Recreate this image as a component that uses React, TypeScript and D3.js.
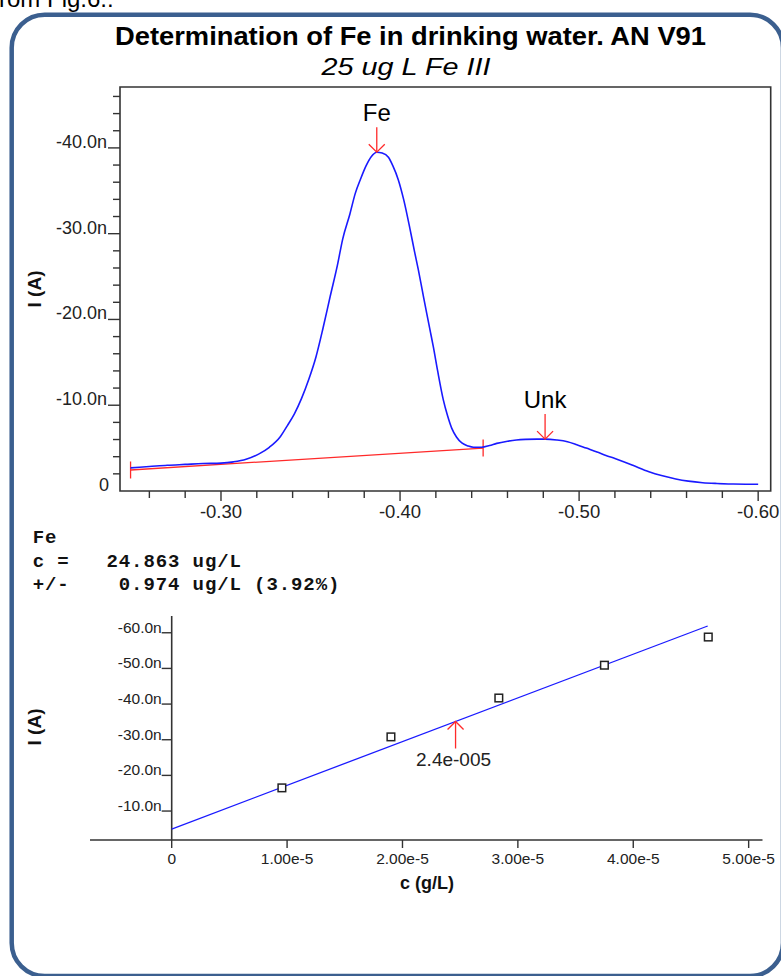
import React from 'react';
import * as d3 from 'd3';

// voltammogram (top chart)
const potential = [-0.2495, -0.26, -0.27, -0.28, -0.29, -0.3, -0.307, -0.314, -0.321, -0.327, -0.333, -0.337, -0.341, -0.345, -0.349, -0.353, -0.357, -0.361, -0.365, -0.368, -0.372, -0.375, -0.378, -0.381, -0.384, -0.387, -0.39, -0.3935, -0.396, -0.399, -0.402, -0.4056, -0.408, -0.4102, -0.4125, -0.4149, -0.417, -0.4186, -0.421, -0.4242, -0.4265, -0.4289, -0.4315, -0.4345, -0.438, -0.441, -0.4456, -0.45, -0.454, -0.46, -0.465, -0.47, -0.4764, -0.481, -0.4875, -0.4935, -0.4987, -0.504, -0.51, -0.515, -0.52, -0.5245, -0.53, -0.539, -0.546, -0.554, -0.561, -0.569, -0.577, -0.586, -0.593, -0.6];
const current = [-2.7, -2.85, -3.0, -3.1, -3.2, -3.25, -3.4, -3.7, -4.3, -5.1, -6.3, -7.6, -9.0, -10.8, -13.0, -15.6, -19.0, -22.7, -26.3, -29.4, -32.3, -34.7, -36.4, -37.9, -39.0, -39.5, -39.4, -38.9, -37.9, -36.3, -34.0, -30.5, -28.0, -25.8, -23.3, -20.7, -18.5, -16.8, -14.0, -10.6, -8.8, -7.3, -6.3, -5.6, -5.25, -5.1, -5.1, -5.3, -5.55, -5.8, -5.95, -6.02, -6.05, -6.05, -5.95, -5.75, -5.4, -5.0, -4.55, -4.15, -3.8, -3.45, -3.0, -2.25, -1.8, -1.4, -1.15, -0.97, -0.88, -0.82, -0.79, -0.78];

const baselinePotential = [-0.2495, -0.4464];
const baselineCurrent = [-2.45, -5.0];

const peakNames = ['Fe', 'Unk'];
const peakPotentials = [-0.387, -0.481];
const peakCurrents = [-39.5, -6.05];

const topMajorY = [-10, -20, -30, -40];
const topMajorX = [-0.3, -0.4, -0.5, -0.6];

// calibration (bottom chart)
const standardConc = [0.955e-5, 1.9e-5, 2.835e-5, 3.75e-5, 4.65e-5];
const standardCurrent = [-16.5, -30.8, -41.7, -50.9, -58.8];
const fitConc = [0, 4.645e-5];
const fitCurrent = [-4.96, -61.9];
const sampleConc = 2.46e-5;
const sampleLabel = '2.4e-005';

const botTicksY = [-10, -20, -30, -40, -50, -60];
const botTicksX = [0, 1e-5, 2e-5, 3e-5, 4e-5, 5e-5];

const resultLines = ['Fe', 'c =   24.863 ug/L', '+/-    0.974 ug/L (3.92%)'];

const SANS = 'Liberation Sans, Arial, sans-serif';
const MONO = 'Liberation Mono, Courier New, monospace';
const AXIS = '#333';
const BLUE = '#1a1aff';
const RED = '#ff2a2a';

const App = () => {
    const W = 781;
    const H = 976;

    // top chart scales
    const xTop = d3.scaleLinear().domain([-0.2436, -0.607]).range([120, 770.7]);
    const yTop = d3.scaleLinear().domain([0, -47.1]).range([491, 87]);

    const curve = d3.line<number>()
        .x((d, i) => xTop(potential[i]))
        .y((d, i) => yTop(current[i]))
        .curve(d3.curveMonotoneX);

    const minorY = d3.range(-2, -47, -2);
    const minorX = d3.range(-0.26, -0.601, -0.02);

    // bottom chart scales
    const xBot = d3.scaleLinear().domain([-0.708e-5, 5.12e-5]).range([90, 762.5]);
    const yBot = d3.scaleLinear().domain([-1.88, -64.7]).range([840, 616]);
    const fitAt = d3.scaleLinear().domain(fitConc).range(fitCurrent);

    const sx = xBot(sampleConc);
    const sy = yBot(fitAt(sampleConc));

    return (
        <svg width={W} height={H} style={{ position: 'absolute', left: 0, top: 0, background: '#fff' }}>
            {/* paragraph text above the frame, clipped by the page top */}
            <text x={-1} y={7} fontFamily={SANS} fontSize={24} fill="#000">rom Fig.6.:</text>

            {/* rounded frame */}
            <rect x={11.7} y={14.7} width={771.3} height={961.3} rx={33} ry={33}
                fill="#fff" stroke="#3b5f8f" strokeWidth={4.5} />

            {/* titles */}
            <text x={410.5} y={44.5} textAnchor="middle" fontFamily={SANS} fontWeight="bold" fontSize={26}
                textLength={591} lengthAdjust="spacingAndGlyphs">Determination of Fe in drinking water. AN V91</text>
            <text x={406} y={75} textAnchor="middle" fontFamily={SANS} fontStyle="italic" fontSize={24}
                textLength={169} lengthAdjust="spacingAndGlyphs">25 ug L Fe III</text>

            {/* top chart frame */}
            <path d={`M120,${yTop.range()[1]}H770.7V491H120Z`} fill="none" stroke={AXIS} strokeWidth={1.6} />
            {minorY.map(v => {
                const major = topMajorY.includes(v);
                return <line key={'my' + v} x1={major ? 108 : 113} x2={120} y1={yTop(v)} y2={yTop(v)} stroke={AXIS} strokeWidth={1.4} />;
            })}
            {topMajorY.map(v => (
                <text key={'ly' + v} x={107} y={yTop(v)} textAnchor="end" fontFamily={SANS} fontSize={18} fill="#222">
                    {v.toFixed(1) + 'n'}
                </text>
            ))}
            <text x={109} y={yTop(0)} textAnchor="end" fontFamily={SANS} fontSize={18} fill="#222">0</text>
            {minorX.map(v => {
                const major = topMajorX.some(m => Math.abs(m - v) < 1e-6);
                return <line key={'mx' + v} x1={xTop(v)} x2={xTop(v)} y1={491} y2={major ? 501 : 498} stroke={AXIS} strokeWidth={1.4} />;
            })}
            {topMajorX.map(v => (
                <text key={'lx' + v} x={xTop(v)} y={518} textAnchor="middle" fontFamily={SANS} fontSize={18.5} fill="#222">
                    {v.toFixed(2)}
                </text>
            ))}
            <text transform="translate(41,289) rotate(-90)" textAnchor="middle" fontFamily={SANS} fontWeight="bold" fontSize={19} fill="#111">I (A)</text>

            {/* baseline */}
            <line x1={xTop(baselinePotential[0])} x2={xTop(baselinePotential[1])}
                y1={yTop(baselineCurrent[0])} y2={yTop(baselineCurrent[1])} stroke={RED} strokeWidth={1.3} />
            {baselinePotential.map((v, i) => (
                <line key={'bt' + i} x1={xTop(v)} x2={xTop(v)} y1={yTop(baselineCurrent[i]) - 8.5} y2={yTop(baselineCurrent[i]) + 8.5} stroke={RED} strokeWidth={1.3} />
            ))}

            {/* voltammogram */}
            <path d={curve(current) || ''} fill="none" stroke={BLUE} strokeWidth={1.6} />

            {/* peak markers */}
            {peakNames.map((name, i) => {
                const px = xTop(peakPotentials[i]);
                const py = yTop(peakCurrents[i]);
                return (
                    <g key={name}>
                        <line x1={px} x2={px} y1={py - 25} y2={py} stroke={RED} strokeWidth={1.3} />
                        <path d={`M${px - 8},${py - 8}L${px},${py}L${px + 8},${py - 8}`} fill="none" stroke={RED} strokeWidth={1.3} />
                        <text x={px} y={py - 31.5} textAnchor="middle" fontFamily={SANS} fontSize={24} fill="#000">{name}</text>
                    </g>
                );
            })}

            {/* results text */}
            {resultLines.map((s, i) => (
                <text key={'r' + i} x={32.7} y={543 + i * 23.5} fontFamily={MONO} fontWeight="bold" fontSize={19}
                    letterSpacing={0.9} fill="#111" style={{ whiteSpace: 'pre' }}>{s}</text>
            ))}

            {/* bottom chart axes */}
            <line x1={xBot(0)} x2={xBot(0)} y1={yBot.range()[1]} y2={yBot.range()[0]} stroke={AXIS} strokeWidth={1.6} />
            <line x1={xBot.range()[0]} x2={xBot.range()[1]} y1={840} y2={840} stroke={AXIS} strokeWidth={1.6} />
            {botTicksY.map(v => (
                <g key={'by' + v}>
                    <line x1={xBot(0) - 10} x2={xBot(0)} y1={yBot(v)} y2={yBot(v)} stroke={AXIS} strokeWidth={1.4} />
                    <text x={xBot(0) - 10} y={yBot(v)} textAnchor="end" fontFamily={SANS} fontSize={15.5} fill="#222">
                        {v.toFixed(1) + 'n'}
                    </text>
                </g>
            ))}
            {botTicksX.map(v => (
                <g key={'bx' + v}>
                    <line x1={xBot(v)} x2={xBot(v)} y1={840} y2={848} stroke={AXIS} strokeWidth={1.4} />
                    <text x={xBot(v)} y={864} textAnchor="middle" fontFamily={SANS} fontSize={15.5} fill="#222">
                        {v === 0 ? '0' : (v * 1e5).toFixed(2) + 'e-5'}
                    </text>
                </g>
            ))}
            <text x={427} y={889} textAnchor="middle" fontFamily={SANS} fontWeight="bold" fontSize={18} fill="#111">c (g/L)</text>
            <text transform="translate(41,727) rotate(-90)" textAnchor="middle" fontFamily={SANS} fontWeight="bold" fontSize={19} fill="#111">I (A)</text>

            {/* fit line */}
            <line x1={xBot(fitConc[0])} x2={xBot(fitConc[1])} y1={yBot(fitCurrent[0])} y2={yBot(fitCurrent[1])} stroke={BLUE} strokeWidth={1.3} />

            {/* standards */}
            {standardConc.map((c, i) => (
                <rect key={'s' + i} x={xBot(c) - 3.8} y={yBot(standardCurrent[i]) - 3.8} width={7.6} height={7.6}
                    fill="#fff" stroke="#222" strokeWidth={1.5} />
            ))}

            {/* sample marker */}
            <line x1={sx} x2={sx} y1={sy} y2={sy + 27} stroke={RED} strokeWidth={1.3} />
            <path d={`M${sx - 8},${sy + 8}L${sx},${sy}L${sx + 8},${sy + 8}`} fill="none" stroke={RED} strokeWidth={1.3} />
            <text x={sx - 2} y={766} textAnchor="middle" fontFamily={SANS} fontSize={19} fill="#222">{sampleLabel}</text>
        </svg>
    );
};

export default App;
